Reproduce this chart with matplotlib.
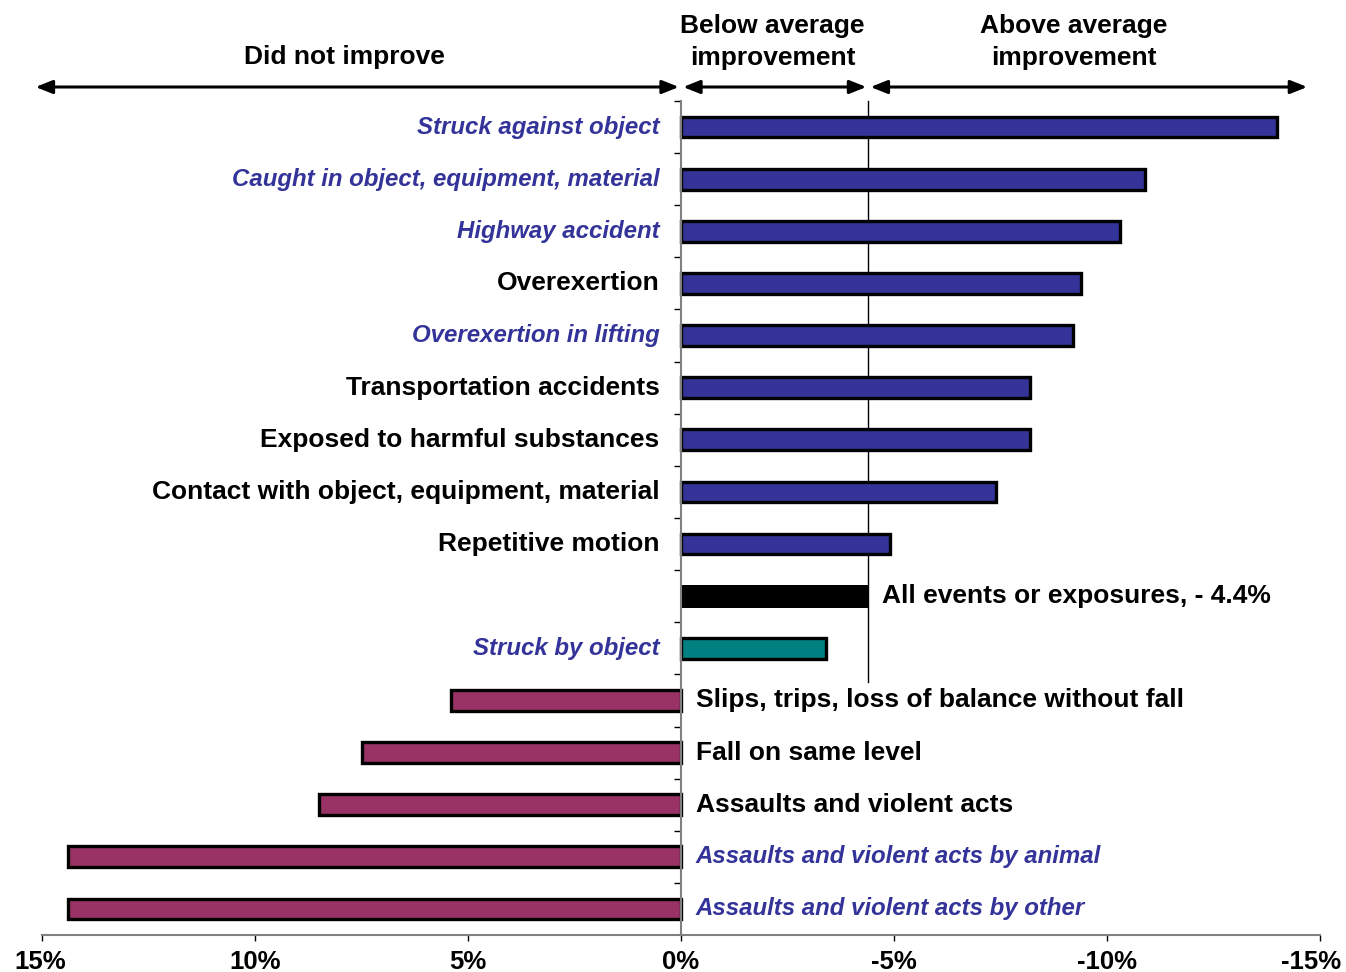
import matplotlib
matplotlib.use("Agg")
import matplotlib.pyplot as plt
from matplotlib.transforms import blended_transform_factory, ScaledTranslation

plt.rcParams['font.family'] = ['Liberation Sans', 'DejaVu Sans']

categories = [
    "Struck against object",
    "Caught in object, equipment, material",
    "Highway accident",
    "Overexertion",
    "Overexertion in lifting",
    "Transportation accidents",
    "Exposed to harmful substances",
    "Contact with object, equipment, material",
    "Repetitive motion",
    "All events or exposures, - 4.4%",
    "Struck by object",
    "Slips, trips, loss of balance without fall",
    "Fall on same level",
    "Assaults and violent acts",
    "Assaults and violent acts by animal",
    "Assaults and violent acts by other",
]
values = [-14.0, -10.9, -10.3, -9.4, -9.2, -8.2, -8.2, -7.4, -4.9, -4.4,
          -3.4, 5.4, 7.5, 8.5, 14.4, 14.4]
italic_flags = [True, True, True, False, True, False, False, False, False,
                False, True, False, False, False, True, True]
bar_groups = ["improved"] * 9 + ["all"] + ["below"] + ["worse"] * 5
average = -4.4
xticks = [15, 10, 5, 0, -5, -10, -15]
xtick_labels = ["15%", "10%", "5%", "0%", "-5%", "-10%", "-15%"]
header_labels = ["Did not improve", "Below average\nimprovement", "Above average\nimprovement"]

group_colors = {"improved": "#333399", "all": "#000000", "below": "#008080", "worse": "#993366"}
blue_text = "#333399"

fig = plt.figure(figsize=(13.46, 9.72), dpi=100)
ax = fig.add_axes([42 / 1346, 1 - 935 / 972, (1320 - 42) / 1346, (935 - 101) / 972])

n = len(categories)
ypos = list(range(n))
for y, v, g in zip(ypos, values, bar_groups):
    if g == "all":
        ax.barh(y, v, height=0.44, color=group_colors[g], edgecolor="black", linewidth=0, zorder=3)
    else:
        ax.barh(y, v, height=0.40, color=group_colors[g], edgecolor="black", linewidth=2.4, zorder=3)

ax.set_xlim(15, -15)
ax.set_ylim(n - 0.5, -0.5)

# labels
for y, v, lab, it, g in zip(ypos, values, categories, italic_flags, bar_groups):
    color = blue_text if it else "black"
    style = "italic" if it else "normal"
    fs = 17.3 if it else 19
    if g == "all":
        ax.text(v - 0.33, y, lab, ha="left", va="center", fontsize=19, fontweight="bold", color="black")
    elif v < 0:
        ax.text(0.5, y, lab, ha="right", va="center", fontsize=fs, fontweight="bold",
                fontstyle=style, color=color)
    else:
        ax.text(-0.35, y, lab, ha="left", va="center", fontsize=fs, fontweight="bold",
                fontstyle=style, color=color)

# average line
ax.plot([average, average], [-0.5, 10.65], color="black", linewidth=1.0, zorder=2, clip_on=False)

# spines
for s in ["top", "right"]:
    ax.spines[s].set_visible(False)
ax.spines["left"].set_position(("data", 0))
ax.spines["left"].set_color("#808080")
ax.spines["left"].set_linewidth(1.5)
ax.spines["left"].set_zorder(4)
ax.spines["bottom"].set_color("#808080")
ax.spines["bottom"].set_linewidth(1.5)

ax.set_yticks([i - 0.5 for i in range(n)])
ax.set_yticklabels([])
ax.tick_params(axis="y", direction="out", length=5, width=1, color="black")

ax.set_xticks(xticks)
ax.set_xticklabels(xtick_labels, fontsize=18.5, fontweight="bold")
ax.tick_params(axis="x", direction="out", length=4, width=1, color="black", pad=7)
last_label = ax.get_xticklabels()[-1]
last_label.set_transform(last_label.get_transform() + ScaledTranslation(-9 / 100, 0, fig.dpi_scale_trans))
first_label = ax.get_xticklabels()[0]
first_label.set_transform(first_label.get_transform() + ScaledTranslation(-2 / 100, 0, fig.dpi_scale_trans))

# header arrows
trans = blended_transform_factory(ax.transData, fig.transFigure)
ya = 1 - 87 / 972
arrow_spans = [(15.15, 0.05), (-0.05, -4.35), (-4.45, -14.7)]
for x0, x1 in arrow_spans:
    ax.annotate("", xy=(x1, ya), xytext=(x0, ya), xycoords=trans, textcoords=trans,
                arrowprops=dict(arrowstyle="<|-|>,head_length=1.0,head_width=0.4",
                                color="black", lw=2.2, shrinkA=0, shrinkB=0),
                annotation_clip=False)

header_x = [7.9, -2.15, -9.22]
header_y = [1 - 57 / 972, 1 - 42 / 972, 1 - 42 / 972]
for hx, hy, ht in zip(header_x, header_y, header_labels):
    ax.text(hx, hy, ht, transform=trans, ha="center", va="center", fontsize=19,
            fontweight="bold", linespacing=1.4)

fig.savefig("out.png", dpi=100)
